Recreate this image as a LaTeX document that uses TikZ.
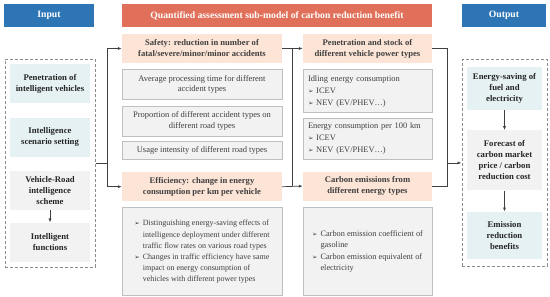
\documentclass[tikz,border=0pt]{standalone}
\usepackage{fontspec}
\setmainfont{Liberation Serif}
\newfontfamily\dingfont{DejaVu Sans}
\usepackage{tikz}
\usepackage{xcolor}
\usetikzlibrary{arrows.meta,positioning,fit,calc}

\definecolor{hdrblue}{HTML}{2E75B6}
\definecolor{hdrred}{HTML}{E0705A}
\definecolor{peach}{HTML}{FCE4D6}
\definecolor{paleblue}{HTML}{E6F1F4}
\definecolor{palegray}{HTML}{F2F2F2}
\definecolor{edgegray}{HTML}{BFBFBF}
\definecolor{txt}{HTML}{404040}
\newcommand{\bul}{{\dingfont\fontsize{6.5}{6.5}\selectfont ➢}}

\begin{document}
\begin{tikzpicture}[
  x=1pt, y=1pt,
  node distance=6pt,
  font=\fontsize{8.5}{10.5}\selectfont, text=txt,
  head/.style={minimum height=23pt, inner sep=0pt, font=\fontsize{9.7}{11}\selectfont\bfseries, text=white},
  blueitem/.style={fill=paleblue, minimum width=80pt, inner sep=2pt, align=center, font=\fontsize{8.7}{11}\selectfont\bfseries, text=black!85},
  grayitem/.style={blueitem, fill=palegray},
  topic/.style={fill=peach, minimum height=29pt, inner sep=2pt, align=center, font=\fontsize{8.6}{11}\selectfont\bfseries},
  detail/.style={fill=palegray, draw=edgegray, line width=0.6pt, inner sep=2pt, align=center},
  listbox/.style={detail, align=left, inner xsep=5pt, text width=119pt, minimum height=42pt, font=\fontsize{8.4}{12}\selectfont},
  frame/.style={draw=black!45, dash pattern=on 3pt off 2pt, line width=0.6pt},
  link/.style={draw=black!75, line width=0.7pt},
  arrow/.style={link, -{Latex[length=4pt,width=3pt]}}
]
\useasboundingbox (0,0) rectangle (550,297);

\node[head, fill=hdrblue, minimum width=90pt] (inhead) at (49,281.5) {Input};
\node[head, fill=hdrred, minimum width=310pt] (qhead) at (277,281.5) {Quantified assessment sub-model of carbon reduction benefit};
\node[head, fill=hdrblue, minimum width=84pt] (outhead) at (504,281.5) {Output};

\node[blueitem, minimum height=39pt] (pen) at (50,213) {Penetration of\\intelligent vehicles};
\node[blueitem, minimum height=39pt, below=14pt of pen] (scen) {Intelligence\\scenario setting};
\node[grayitem, minimum height=39pt, below=14pt of scen] (vrs) {Vehicle-Road\\intelligence\\scheme};
\node[grayitem, minimum height=39pt, below=12pt of vrs] (func) {Intelligent\\functions};
\node[frame, inner sep=5pt, fit=(pen)(func)] (inframe) {};

\node[topic, minimum width=160pt] (safe) at (202,248.5) {Safety: reduction in number of\\fatal/severe/minor/minor accidents};
\node[detail, minimum width=160pt, minimum height=30pt, below=of safe] (avg) {Average processing time for different\\accident types};
\node[detail, minimum width=160pt, minimum height=30pt, below=of avg] (prop) {Proportion of different accident types on\\different road types};
\node[detail, minimum width=160pt, minimum height=18pt, below=5pt of prop] (usage) {Usage intensity of different road types};
\node[topic, minimum width=160pt, below=12pt of usage] (eff) {Efficiency: change in energy\\consumption per km per vehicle};
\node[detail, minimum width=160pt, minimum height=88pt, below=of eff, font=\fontsize{8}{11.2}\selectfont] (bula) {\begin{tabular}{@{}l@{\hspace{3pt}}l@{}}
\bul & Distinguishing energy-saving effects of\\
 & intelligence deployment under different\\
 & traffic flow rates on various road types\\
\bul & Changes in traffic efficiency have same\\
 & impact on energy consumption of\\
 & vehicles with different power types
\end{tabular}};

\node[topic, minimum width=129pt] (pens) at (367.5,248.5) {Penetration and stock of\\different vehicle power types};
\node[listbox, minimum height=43pt, below=of pens] (idle) {Idling energy consumption\\\bul\ ICEV\\\bul\ NEV (EV/PHEV…)};
\node[listbox, minimum height=41pt, below=5pt of idle] (e100) {Energy consumption per 100~km\\\bul\ ICEV\\\bul\ NEV (EV/PHEV…)};
\node[topic, minimum width=129pt, below=12pt of e100] (carb) {Carbon emissions from\\different energy types};
\node[detail, minimum width=129pt, minimum height=88pt, below=of carb, font=\fontsize{8.3}{11.5}\selectfont] (bulb) {\begin{tabular}{@{}l@{\hspace{3pt}}l@{}}
\bul & Carbon emission coefficient of\\
 & gasoline\\
\bul & Carbon emission equivalent of\\
 & electricity
\end{tabular}};

\node[blueitem, minimum width=75pt, minimum height=43pt] (esave) at (504.5,208.5) {Energy-saving of\\fuel and\\electricity};
\node[grayitem, minimum width=75pt, minimum height=60pt, below=20pt of esave] (fcast) {Forecast of\\carbon market\\price / carbon\\reduction cost};
\node[blueitem, minimum width=75pt, minimum height=47pt, below=21pt of fcast] (emis) {Emission\\reduction\\benefits};
\node[frame, inner xsep=5pt, inner ysep=7pt, fit=(esave)(emis)] (outframe) {};

\coordinate (j1) at ($(inframe.east)+(12,0)$);
\coordinate (j2) at ($(safe.east)!0.5!(pens.west)$);
\coordinate (j3) at ($(eff.east)!0.5!(carb.west)$);
\coordinate (j4) at ($(outframe.west)+(-14,0)$);

\draw[arrow] (vrs) -- (func);
\draw[link] (inframe.east) -- (j1);
\draw[arrow] (j1) |- (safe.west);
\draw[arrow] (j1) |- (eff.west);
\draw[arrow] (safe.east) -- (pens.west);
\draw[arrow] (eff.east) -- (carb.west);
\draw[link] (j2) -- (j3);
\draw[link] (pens.east) -| (j4) |- (carb.east);
\draw[arrow] (j4) -- (outframe.west);
\draw[arrow] (esave) -- (fcast);
\draw[arrow] (fcast) -- (emis);
\end{tikzpicture}
\end{document}
